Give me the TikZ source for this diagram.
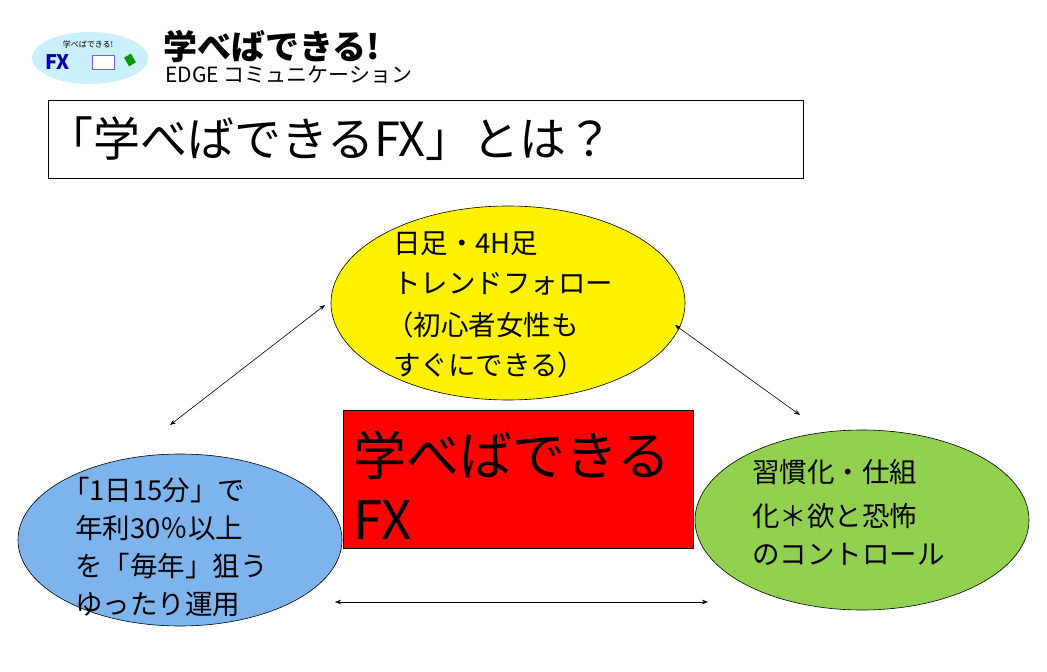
\documentclass[tikz,border=0pt]{standalone}
\usepackage{fontspec}
\setmainfont{Noto Sans CJK JP}
\usetikzlibrary{arrows.meta,shapes.geometric}
\begin{document}
\begin{tikzpicture}[x=1pt,y=-1pt,
  lbl/.style={anchor=west,inner sep=0pt,font=\fontsize{27.5}{30}\selectfont},
  arr/.style={{Stealth[length=6pt]}-{Stealth[length=6pt]},line width=0.6pt}]
\useasboundingbox (0,0) rectangle (1047,672);
\fill[white] (0,0) rectangle (1047,672);
% logo
\node[ellipse,fill=cyan!20,minimum width=116pt,minimum height=52pt,inner sep=0pt] (logo) at (90,58) {};
\node[inner sep=0pt,font=\fontsize{8}{9}\selectfont] (logot) at (88,44) {学べばできる!};
\node[inner sep=0pt,font=\fontsize{20}{22}\selectfont\bfseries,text=blue!70!black,anchor=west] (logofx) at (45,62) {FX};
\node[draw=blue!60,fill=white,minimum width=22pt,minimum height=14pt,inner sep=0pt] (logoscr) at (103,62) {};
\node[fill=green!60!black,minimum width=8pt,minimum height=10pt,inner sep=0pt,rotate=30] (logoleaf) at (130,60) {};
\node[anchor=west,inner sep=0pt,font=\fontsize{34}{36}\selectfont\bfseries] (brand) at (163,46) {学べばできる!};
\node[anchor=west,inner sep=0pt,font=\fontsize{21}{24}\selectfont] (brand2) at (165,75) {EDGE コミュニケーション};
% title
\draw[line width=0.8pt] (48,100) rectangle (803,178);
\node[anchor=west,inner sep=0pt,font=\fontsize{47}{50}\selectfont] (title) at (46,139) {「学べばできるFX」とは？};
% ellipses
\node[draw,fill=yellow,ellipse,minimum width=354pt,minimum height=194pt,line width=0.6pt] (y) at (508,303) {};
\node[draw,ellipse,minimum width=324pt,minimum height=172pt,line width=0.6pt,fill={rgb,255:red,125;green,180;blue,238}] (b) at (180,540) {};
\node[draw,ellipse,minimum width=334pt,minimum height=180pt,line width=0.6pt,fill={rgb,255:red,146;green,208;blue,80}] (g) at (862,520) {};
\node[draw,fill=red,minimum width=350pt,minimum height=138pt,inner sep=0pt,line width=0.6pt] (r) at (518,479) {};
% texts
\node[lbl] (y1) at (393,244) {日足・4H足};
\node[lbl] (y2) at (393,284) {トレンドフォロー};
\node[lbl] (y3) at (386,325) {（初心者女性も};
\node[lbl] (y4) at (393,365) {すぐにできる）};
\node[lbl,font=\fontsize{53}{56}\selectfont] (r1) at (353,455) {学べばできる};
\node[lbl,font=\fontsize{53}{56}\selectfont] (r2) at (353,520) {FX};
\node[lbl] (b1) at (62,490) {「1日15分」で};
\node[lbl] (b2) at (75,528) {年利30％以上};
\node[lbl] (b3) at (75,566) {を「毎年」狙う};
\node[lbl] (b4) at (75,604) {ゆったり運用};
\node[lbl] (g1) at (752,472) {習慣化・仕組};
\node[lbl] (g2) at (752,516) {化＊欲と恐怖};
\node[lbl] (g3) at (752,554) {のコントロール};
% arrows
\coordinate (a1) at (170,425); \coordinate (a2) at (325,305);
\coordinate (a3) at (675,325); \coordinate (a4) at (800,415);
\coordinate (a5) at (335,602); \coordinate (a6) at (708,602);
\draw[arr] (a1) -- (a2);
\draw[arr] (a3) -- (a4);
\draw[arr] (a5) -- (a6);
\end{tikzpicture}
\end{document}
